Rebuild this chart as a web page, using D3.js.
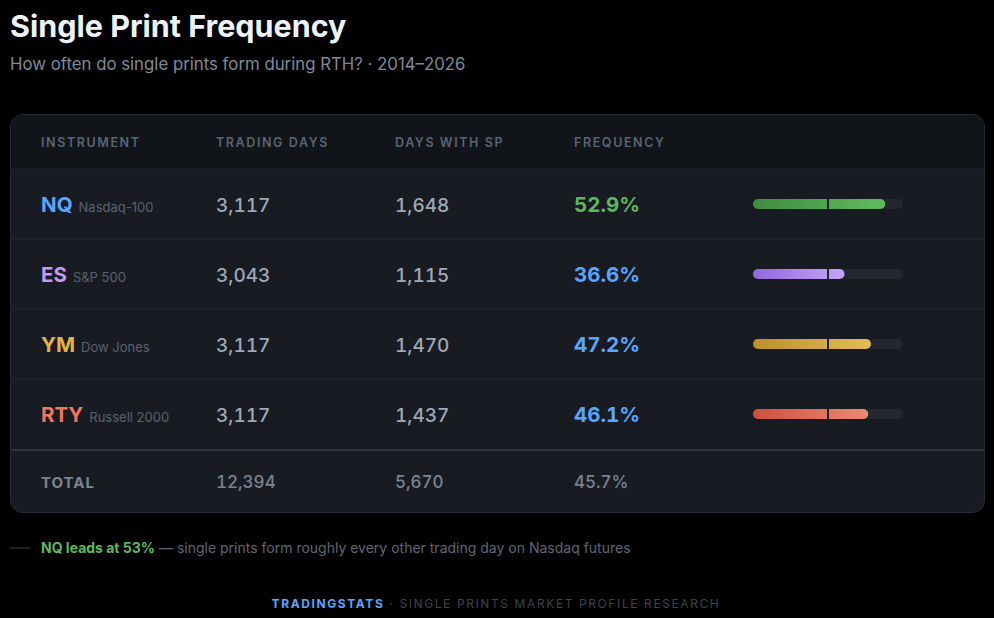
<!DOCTYPE html>
<html><head><meta charset="utf-8">
<script src="https://cdn.jsdelivr.net/npm/d3@7"></script>
<style>
html,body{margin:0;padding:0;background:#000;}
svg{display:block;font-family:Inter,"Noto Sans",sans-serif;}
.num{font-variant-numeric:tabular-nums;}
</style></head>
<body>
<svg id="chart" width="994" height="618"></svg>
<script>
const tickers = ["NQ","ES","YM","RTY"];
const names = ["Nasdaq-100","S&P 500","Dow Jones","Russell 2000"];
const tradingDays = [3117,3043,3117,3117];
const daysWithSP = [1648,1115,1470,1437];
const frequency = [52.9,36.6,47.2,46.1];
const headers = ["INSTRUMENT","TRADING DAYS","DAYS WITH SP","FREQUENCY"];
const totals = ["TOTAL","12,394","5,670","45.7%"];
const tickerColors = ["#58a6ff","#c49af5","#e3b341","#f0765c"];
const freqColors = ["#5cb85c","#58a6ff","#58a6ff","#58a6ff"];
const gradStops = [["#3f8c41","#5fbb5f"],["#9367df","#c6a3f6"],["#bd8f2c","#e2bc5c"],["#cf4f3d","#ee8a72"]];

const svg = d3.select("#chart");
const defs = svg.append("defs");

svg.append("text").attr("x",10).attr("y",37).attr("fill","#eef3fa")
  .attr("font-size",30.5).attr("font-weight",700)
  .text("Single Print Frequency");
svg.append("text").attr("x",10).attr("y",70).attr("fill","#7f8a99")
  .attr("font-size",16.8).text("How often do single prints form during RTH? · 2014–2026");

const cardX=10, cardY=114, cardW=975, cardH=399;
svg.append("rect").attr("x",cardX+0.5).attr("y",cardY+0.5).attr("width",cardW-1).attr("height",cardH-1)
  .attr("rx",12).attr("fill","#181b22").attr("stroke","#262a33");
const clip = defs.append("clipPath").attr("id","cardclip");
clip.append("rect").attr("x",cardX+1).attr("y",cardY+1).attr("width",cardW-2).attr("height",cardH-2).attr("rx",11);
const g = svg.append("g").attr("clip-path","url(#cardclip)");
g.append("rect").attr("x",cardX).attr("y",cardY).attr("width",cardW).attr("height",55).attr("fill","#111419");

const colX = [41,216,395,574];
const rowY = d3.scaleBand().domain(tickers).range([169,449]);
const barX = d3.scaleLinear().domain([0,60]).range([753,903]);

headers.forEach((h,i)=>{
  svg.append("text").attr("x",colX[i]).attr("y",147).attr("fill","#5b6472")
    .attr("font-size",12.5).attr("font-weight",600).attr("letter-spacing","1.6").text(h);
});

[169].concat(tickers.slice(1).map(t=>rowY(t))).forEach(y=>{
  g.append("line").attr("x1",cardX).attr("x2",cardX+cardW).attr("y1",y).attr("y2",y)
    .attr("stroke","#23272f").attr("stroke-width",1);
});
g.append("line").attr("x1",cardX).attr("x2",cardX+cardW).attr("y1",450).attr("y2",450)
  .attr("stroke","#2e333c").attr("stroke-width",2);

tickers.forEach((t,i)=>{
  const cy = rowY(t)+rowY.bandwidth()/2;
  const base = cy+8;
  const tt = svg.append("text").attr("x",colX[0]).attr("y",base);
  tt.append("tspan").attr("fill",tickerColors[i]).attr("font-size",20.5).attr("font-weight",700).text(t);
  tt.append("tspan").attr("fill","#5a6270").attr("font-size",13).attr("dx",6).text(names[i]);
  svg.append("text").attr("class","num").attr("x",colX[1]).attr("y",base).attr("fill","#9fa8b5").attr("font-size",19).attr("font-weight",500)
    .text(d3.format(",")(tradingDays[i]));
  svg.append("text").attr("class","num").attr("x",colX[2]).attr("y",base).attr("fill","#9fa8b5").attr("font-size",19).attr("font-weight",500)
    .text(d3.format(",")(daysWithSP[i]));
  svg.append("text").attr("class","num").attr("x",colX[3]).attr("y",base).attr("fill",freqColors[i]).attr("font-size",20.5).attr("font-weight",700)
    .text(frequency[i].toFixed(1)+"%");
  const gid = "grad"+i;
  const lg = defs.append("linearGradient").attr("id",gid).attr("gradientUnits","userSpaceOnUse")
    .attr("x1",barX(0)).attr("x2",barX(frequency[i])).attr("y1",0).attr("y2",0);
  lg.append("stop").attr("offset","0%").attr("stop-color",gradStops[i][0]);
  lg.append("stop").attr("offset","100%").attr("stop-color",gradStops[i][1]);
  const bh=10;
  svg.append("rect").attr("x",barX(0)).attr("y",cy-bh/2).attr("width",barX(60)-barX(0)).attr("height",bh)
    .attr("rx",5).attr("fill","#24272f");
  svg.append("rect").attr("x",barX(0)).attr("y",cy-bh/2).attr("width",barX(frequency[i])-barX(0)).attr("height",bh)
    .attr("rx",5).attr("fill",`url(#${gid})`);
  svg.append("line").attr("x1",barX(30)).attr("x2",barX(30)).attr("y1",cy-bh/2).attr("y2",cy+bh/2)
    .attr("stroke","#1f232b").attr("stroke-width",2);
});

totals.forEach((v,i)=>{
  svg.append("text").attr("class","num").attr("x",colX[i]).attr("y",488).attr("fill","#7b8491")
    .attr("font-size",i===0?15:17).attr("font-weight",i===0?700:500)
    .attr("letter-spacing",i===0?"1":"0").text(v);
});

svg.append("line").attr("x1",10).attr("x2",30).attr("y1",548).attr("y2",548).attr("stroke","#3a4049").attr("stroke-width",1);
const fn = svg.append("text").attr("x",41).attr("y",553).attr("font-size",14);
fn.append("tspan").attr("fill","#5cb85c").attr("font-weight",700).text("NQ leads at 53%");
fn.append("tspan").attr("fill","#5f6773").text(" — single prints form roughly every other trading day on Nasdaq futures");

const ft = svg.append("text").attr("x",496).attr("y",608).attr("text-anchor","middle").attr("font-size",12).attr("letter-spacing","1.6");
ft.append("tspan").attr("fill","#58a6ff").attr("font-weight",700).text("TRADINGSTATS");
ft.append("tspan").attr("fill","#3d434c").text(" · SINGLE PRINTS MARKET PROFILE RESEARCH");
</script>
</body></html>
